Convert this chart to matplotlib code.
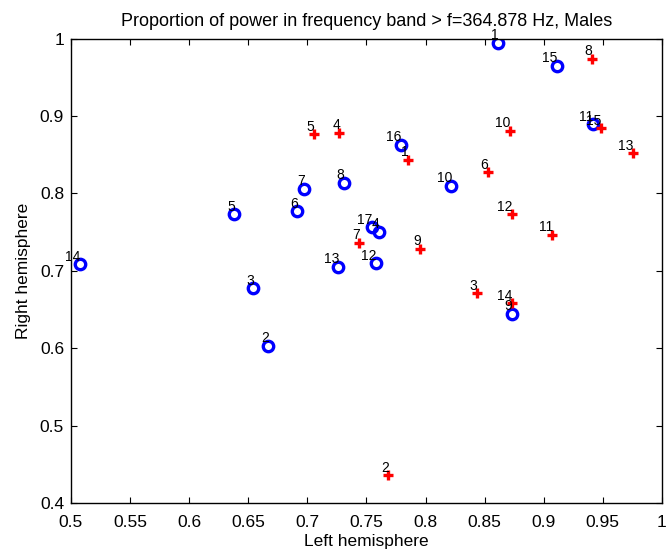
import numpy as np
import matplotlib
matplotlib.use("Agg")
from matplotlib import pyplot as plt
from matplotlib.ticker import FuncFormatter

plt.rcParams['font.family'] = ['Liberation Sans', 'DejaVu Sans']

# Blue circles: subjects 1..17 (left, right hemisphere proportion)
circle_ids = list(range(1, 18))
circle_left = [0.861, 0.667, 0.654, 0.7606, 0.638, 0.6915, 0.6974, 0.7307, 0.8728,
               0.8217, 0.9414, 0.758, 0.7261, 0.5076, 0.9109, 0.7789, 0.7544]
circle_right = [0.9946, 0.6036, 0.6777, 0.7503, 0.7732, 0.777, 0.8062, 0.8135, 0.6445,
                0.810, 0.8893, 0.710, 0.7052, 0.7086, 0.9649, 0.8626, 0.7564]

# Red crosses: subjects 1..15
cross_ids = list(range(1, 16))
cross_left = [0.7849, 0.7684, 0.8432, 0.727, 0.7056, 0.8525, 0.7437, 0.9405, 0.7953,
              0.8714, 0.9072, 0.8728, 0.9752, 0.8728, 0.9481]
cross_right = [0.8432, 0.4364, 0.6712, 0.8785, 0.8764, 0.8274, 0.7365, 0.9735, 0.7288,
               0.8806, 0.7465, 0.7732, 0.8519, 0.6583, 0.8841]

fig = plt.figure(figsize=(6.67, 5.58), dpi=100)
ax = fig.add_axes([0.1064, 0.0977, 0.886, 0.8333])

ax.plot(circle_left, circle_right, linestyle='none', marker='o', markersize=7.5,
        markerfacecolor='none', markeredgecolor=(0, 0, 1), markeredgewidth=2.4)
ax.plot(cross_left, cross_right, linestyle='none', marker='+', markersize=7.5,
        markeredgecolor=(1, 0, 0), markeredgewidth=2.4)

# number labels sit just above-left of each marker
for i, x, y in zip(circle_ids, circle_left, circle_right):
    ax.annotate(str(i), (x, y), xytext=(0.5, 5.5), textcoords='offset points',
                ha='right', va='center', fontsize=10)
for i, x, y in zip(cross_ids, cross_left, cross_right):
    ax.annotate(str(i), (x, y), xytext=(0.5, 5.5), textcoords='offset points',
                ha='right', va='center', fontsize=10)

ax.set_xlim(0.5, 1.0)
ax.set_ylim(0.4, 1.0)
ax.set_xticks(np.arange(0.5, 1.0001, 0.05))
ax.set_yticks(np.arange(0.4, 1.0001, 0.1))
fmt = FuncFormatter(lambda v, p: '%g' % round(v, 2))
ax.xaxis.set_major_formatter(fmt)
ax.yaxis.set_major_formatter(fmt)
ax.tick_params(direction='in', top=True, right=True, length=4, width=0.8,
               labelsize=12.5)
ax.tick_params(axis='x', pad=8)
ax.tick_params(axis='y', pad=5)
for s in ax.spines.values():
    s.set_linewidth(1.0)

ax.set_xlabel("Left hemisphere", fontsize=12.5, labelpad=3)
ax.set_ylabel("Right hemisphere", fontsize=12.5, labelpad=6)
ax.set_title("Proportion of power in frequency band > f=364.878 Hz, Males",
             fontsize=13, pad=9)

fig.savefig("out.png", dpi=100)
